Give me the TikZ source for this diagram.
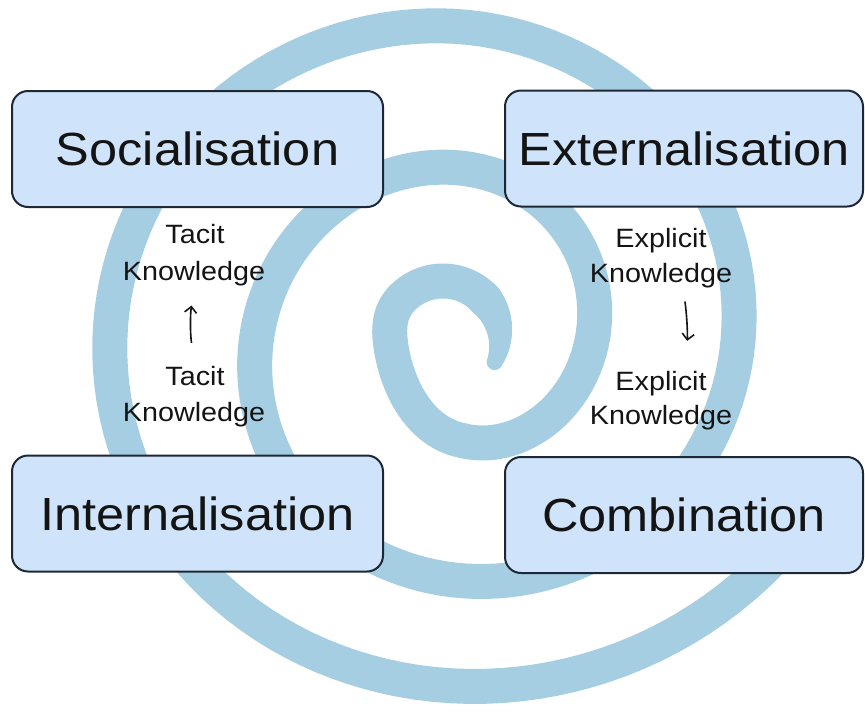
\documentclass[tikz,border=0pt]{standalone}
\usepackage{fontspec}
\setmainfont{Liberation Sans}[FakeStretch=1.085]
\usetikzlibrary{arrows.meta}
\definecolor{spiralblue}{RGB}{166,206,227}
\definecolor{boxfill}{RGB}{207,228,250}
\definecolor{boxline}{RGB}{30,40,52}
\definecolor{ink}{RGB}{20,20,20}
\begin{document}
\begin{tikzpicture}[x=1pt,y=-1pt,
  declare function={
    % blend weight: pure curl circle near the centre, pure spiral further out
    bw(\t)=(\t<135) ? 1 : ((\t>270) ? 0 : 0.5*(1+cos((\t-135)*4/3)));
    % vertical centre of the spiral drifts slightly as it grows
    cyy(\t)=(\t<540) ? (343-14*((max(\t,270)-540)/270)^2) : (343-26*((\t-540)/450)^2);
    % extra vertical opening of the outer turn
    ey(\t)=9*min(1,max(0,(\t-540)/270));
    fx(\t)=460.7+(-13.4+0.404*\t)*cos(\t);
    fy(\t)=cyy(\t)-(17.7+0.346*\t+ey(\t))*sin(\t);
    px(\t)=bw(\t)*(443+57*cos(\t))+(1-bw(\t))*fx(\t);
    py(\t)=bw(\t)*(338-57*sin(\t))+(1-bw(\t))*fy(\t);
  },
  stage/.style={draw=boxline, line width=2pt, fill=boxfill, rounded corners=16pt,
    minimum width=371pt, minimum height=116pt, inner sep=0pt,
    font=\fontsize{46.5}{50}\selectfont, text=ink},
  lab/.style={font=\fontsize{26.5}{30}\selectfont, text=ink, inner sep=0pt, anchor=base},
  flow/.style={line width=1.6pt, draw=ink, -{Straight Barb[length=6pt,width=12pt]}},
  band/.style={draw=spiralblue, line width=35pt, line cap=butt, line join=round}
]
\useasboundingbox (0,0) rectangle (865,718);

% the spiral band, traced outwards from the curl
\draw[band] plot[domain=40:1052, samples=400, variable=\t] ({px(\t)},{py(\t)});
% tapered tip of the curl
\foreach \a in {-25,-21,...,45}{
  \pgfmathsetmacro\w{min(35,16+19*(\a+25)/66)}
  \draw[spiralblue, line width=\w pt, line cap=round]
    ({px(\a)},{py(\a)}) -- ({px(\a+4)},{py(\a+4)});
}

% the four stages
\node[stage] (soc) at (197.5,149) {Socialisation};
\node[stage, minimum width=358pt] (ext) at (684,148.5) {Externalisation};
\node[stage] (int) at (197.5,513.5) {Internalisation};
\node[stage, minimum width=358pt] (com) at (684,515) {Combination};

% knowledge labels
\node[lab] (tacA) at (195,243) {Tacit};
\node[lab] (knowA) at (194,280) {Knowledge};
\node[lab] (tacB) at (195,385) {Tacit};
\node[lab] (knowB) at (194,421) {Knowledge};
\node[lab] (explC) at (661,247) {Explicit};
\node[lab] (knowC) at (661,282) {Knowledge};
\node[lab] (explD) at (661,390) {Explicit};
\node[lab] (knowD) at (661,424) {Knowledge};

% conversions
\draw[flow, shorten <=23pt, shorten >=20pt] (tacB.north) to[bend left=8] (knowA.south);
\draw[flow, shorten <=14pt, shorten >=30pt] ([xshift=22pt]knowC.south) to[bend left=8] ([xshift=22pt]explD.north);
\end{tikzpicture}
\end{document}
